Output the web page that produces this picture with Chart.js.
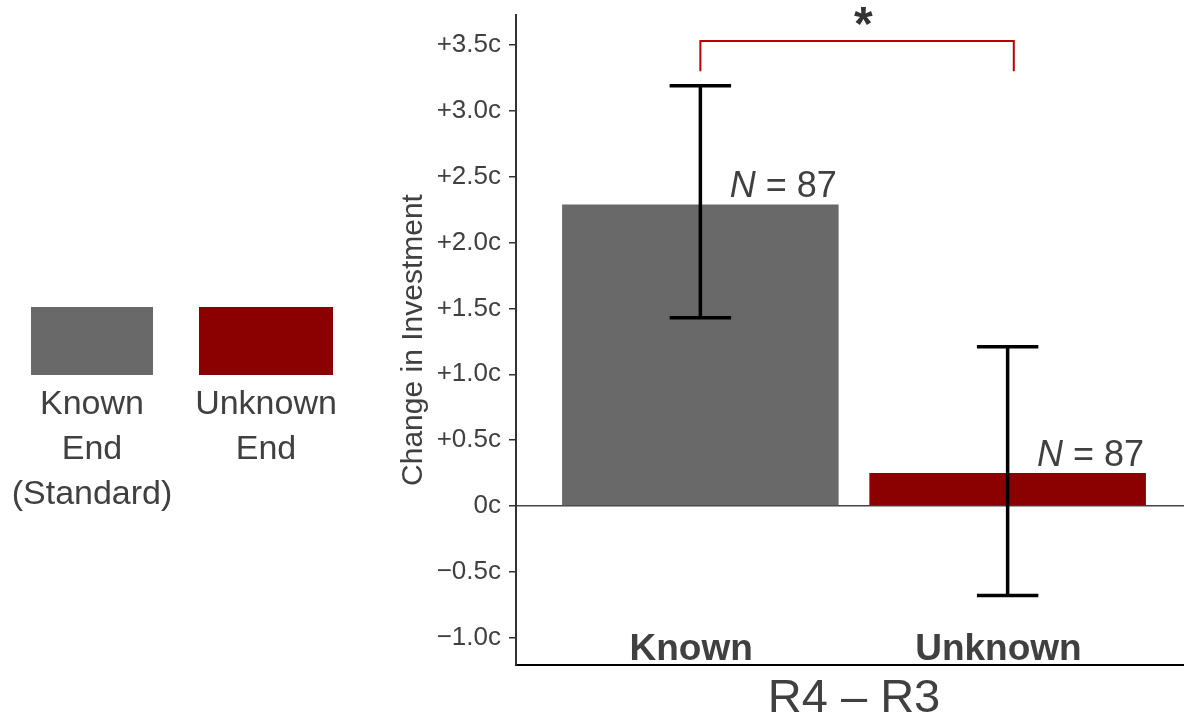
<!DOCTYPE html>
<html><head><meta charset="utf-8">
<script src="https://cdn.jsdelivr.net/npm/chart.js@4"></script>
<style>
html,body{margin:0;padding:0;overflow:hidden;background:#fff;width:1184px;height:721px;}
#c{position:absolute;left:0;top:0;}
</style></head><body>
<canvas id="c" width="1192" height="727"></canvas>
<script>
// ---- data ----
const categories = ['Known', 'Unknown'];
const catPos = [1, 2];
const means = [2.29, 0.25];
const errLow = [1.43, -0.68];
const errHigh = [3.19, 1.21];
const nValues = ['87', '87'];
const legendLines = [['Known', 'End', '(Standard)'], ['Unknown', 'End']];
const barColors = ['#696969', '#8B0000'];
const yTicks = [-1.0, -0.5, 0, 0.5, 1.0, 1.5, 2.0, 2.5, 3.0, 3.5];
const yTickLabels = ['\u22121.0c', '\u22120.5c', '0c', '+0.5c', '+1.0c', '+1.5c', '+2.0c', '+2.5c', '+3.0c', '+3.5c'];
const bracketX = [1.0, 2.02];
const bracketY = [3.30, 3.53];   // leg bottom, bracket top
const sigMark = '*';
const sigPos = [1.53, 3.54];
const yTitle = 'Change in Investment';
const xTitle = 'R4 \u2013 R3';

const FONT = "'Liberation Sans', Arial, Helvetica, sans-serif";
const TEXT = '#404040';

const annot = {
  id: 'annot',
  afterDatasetsDraw(chart) {
    const { ctx, scales: { x, y } } = chart;
    ctx.save();
    // error bars
    ctx.strokeStyle = '#000';
    ctx.lineWidth = 3.5;
    catPos.forEach((c, i) => {
      const px = x.getPixelForValue(c);
      const hw = x.getPixelForValue(c + 0.1) - px;
      const yl = y.getPixelForValue(errLow[i]);
      const yh = y.getPixelForValue(errHigh[i]);
      ctx.beginPath();
      ctx.moveTo(px, yl); ctx.lineTo(px, yh);
      ctx.moveTo(px - hw, yl); ctx.lineTo(px + hw, yl);
      ctx.moveTo(px - hw, yh); ctx.lineTo(px + hw, yh);
      ctx.stroke();
    });
    // N labels
    ctx.fillStyle = TEXT;
    ctx.textBaseline = 'alphabetic';
    ctx.textAlign = 'left';
    catPos.forEach((c, i) => {
      const cx = x.getPixelForValue(c + 0.27);
      const by = y.getPixelForValue(means[i]) - 7;
      const fi = 'italic 36px ' + FONT, fn = '36px ' + FONT;
      const rest = ' = ' + nValues[i];
      ctx.font = fi; const w1 = ctx.measureText('N').width;
      ctx.font = fn; const w2 = ctx.measureText(rest).width;
      const sx = cx - (w1 + w2) / 2;
      ctx.font = fi; ctx.fillText('N', sx, by);
      ctx.font = fn; ctx.fillText(rest, sx + w1, by);
    });
    // category labels
    ctx.font = 'bold 37px ' + FONT;
    ctx.textAlign = 'center';
    catPos.forEach((c, i) => {
      ctx.fillText(categories[i], x.getPixelForValue(c - 0.03), y.getPixelForValue(-1.17));
    });
    // significance bracket
    ctx.strokeStyle = '#BB0000';
    ctx.lineWidth = 2;
    ctx.beginPath();
    ctx.moveTo(x.getPixelForValue(bracketX[0]), y.getPixelForValue(bracketY[0]));
    ctx.lineTo(x.getPixelForValue(bracketX[0]), y.getPixelForValue(bracketY[1]));
    ctx.lineTo(x.getPixelForValue(bracketX[1]), y.getPixelForValue(bracketY[1]));
    ctx.lineTo(x.getPixelForValue(bracketX[1]), y.getPixelForValue(bracketY[0]));
    ctx.stroke();
    ctx.font = 'bold 48px ' + FONT;
    ctx.fillStyle = '#333';
    ctx.fillText(sigMark, x.getPixelForValue(sigPos[0]), y.getPixelForValue(sigPos[1]));
    ctx.restore();
  },
  afterDraw(chart) {
    const { ctx } = chart;
    ctx.save();
    const boxes = [[31, 307, 122, 68], [199, 307, 134, 68]];
    const centers = [92, 266];
    ctx.font = '34px ' + FONT;
    ctx.textAlign = 'center';
    ctx.textBaseline = 'alphabetic';
    legendLines.forEach((lines, i) => {
      const b = boxes[i];
      ctx.fillStyle = barColors[i];
      ctx.fillRect(b[0], b[1], b[2], b[3]);
      ctx.fillStyle = TEXT;
      lines.forEach((t, j) => ctx.fillText(t, centers[i], 414 + j * 45));
    });
    ctx.restore();
  }
};

new Chart(document.getElementById('c'), {
  type: 'bar',
  data: {
    datasets: [{
      data: catPos.map((c, i) => ({ x: c, y: means[i] })),
      backgroundColor: barColors,
      borderWidth: 0,
      barPercentage: 0.9,
      categoryPercentage: 1.0
    }]
  },
  options: {
    responsive: false,
    animation: false,
    devicePixelRatio: 1,
    layout: { padding: { left: 396, top: 15, right: 0, bottom: 0 } },
    plugins: { legend: { display: false }, tooltip: { enabled: false } },
    scales: {
      x: {
        type: 'linear',
        min: 0.4, max: 2.6,
        offset: false,
        afterBuildTicks(s) { s.ticks = catPos.map(v => ({ value: v })); },
        grid: { display: false, drawTicks: false },
        ticks: { display: false },
        border: { display: true, color: '#000', width: 2 },
        title: { display: true, text: xTitle, color: TEXT, font: { family: FONT, size: 47 }, padding: 0 },
        afterFit(s) { s.height = 62; s.paddingLeft = 0; s.paddingRight = 0; }
      },
      y: {
        min: -1.207, max: 3.728,
        afterBuildTicks(s) { s.ticks = yTicks.map(v => ({ value: v })); },
        ticks: {
          color: TEXT,
          font: { family: FONT, size: 26 },
          padding: 8,
          callback: (v) => yTickLabels[yTicks.indexOf(v)]
        },
        grid: {
          drawOnChartArea: true,
          color: (c) => (c.tick && c.tick.value === 0) ? '#444' : 'rgba(0,0,0,0)',
          lineWidth: 1.5,
          tickColor: '#333',
          tickLength: 7,
          tickWidth: 1.5
        },
        border: { display: true, color: '#333', width: 2 },
        title: { display: true, text: yTitle, color: TEXT, font: { family: FONT, size: 30 }, padding: 0 },
        afterFit(s) { s.width = 120; s.paddingTop = 0; s.paddingBottom = 0; }
      }
    }
  },
  plugins: [annot]
});
</script>
</body></html>
